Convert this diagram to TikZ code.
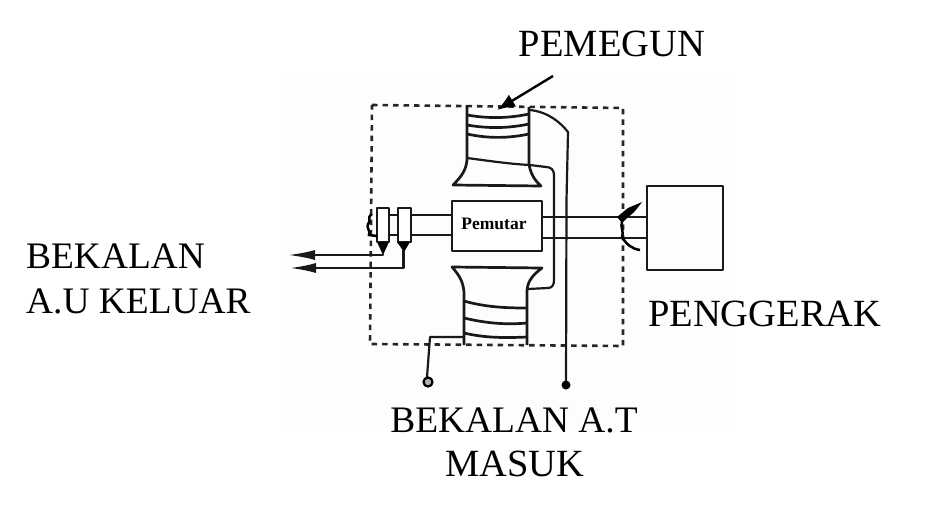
\documentclass[tikz,border=0pt]{standalone}
\usepackage{fontspec}
\setmainfont{Liberation Serif}
\usetikzlibrary{arrows.meta}
\tikzset{
 ln/.style={line width=2.2pt,black!90,line join=round},
 coil/.style={line width=2.7pt,black!90,line join=round},
 dash box/.style={line width=2.6pt,black!85,dash pattern=on 5.5pt off 5pt},
 lbl/.style={font=\fontsize{38.5}{40}\selectfont,inner sep=0pt,text=black},
 lbls/.style={font=\fontsize{37.4}{40}\selectfont,inner sep=0pt,text=black},
 hd/.style={-{Latex[length=27pt,width=10pt]}},
}
\begin{document}
\begin{tikzpicture}[x=1pt,y=-1pt]
\useasboundingbox (0,0) rectangle (936,506);
\fill[white] (0,0) rectangle (936,506);
\fill[black!0.6] (280,72) rectangle (735,425);
% dashed casing
\draw[dash box] (372,105) -- (623,108) -- (623,346) -- (370,344) -- cycle;
% shaft
\coordinate (slA) at (377,215);\coordinate (slB) at (377,235);
\node[draw,ln,minimum width=90pt,minimum height=50pt,inner sep=0pt,fill=white] (rotor) at (497,226) {};
\node[font=\fontsize{17.5}{18}\selectfont\bfseries,inner sep=0pt] (rotorlabel) at (494,224) {Pemutar};
\node[draw,coil,minimum width=76pt,minimum height=84pt,inner sep=0pt] (drive) at (685,228) {};
\draw[ln] (slA) -- (rotor.west |- slA) (slB) -- (rotor.west |- slB);
\draw[ln] (rotor.east |- 0,217) -- (drive.west |- 0,217);
\draw[ln,line width=2.8pt] (rotor.east |- 0,238) -- (drive.west |- 0,238);
% slip rings
\node[draw,coil,fill=white,minimum width=12pt,minimum height=34pt,inner sep=0pt] (ringA) at (383,225) {};
\node[draw,coil,fill=white,minimum width=13pt,minimum height=34pt,inner sep=0pt] (ringB) at (404.5,225) {};
\draw[line width=2.5pt] (372,214) .. controls (366,218) and (372,221) .. (368,224) .. controls (366,228) and (371,231) .. (369,235) -- (377,236);
\fill (377,242) -- (389,242) -- (383,255) -- cycle;
\fill (397,242) -- (410,242) -- (404,252) -- cycle;
% output leads
\coordinate (outA) at (288,255);\coordinate (outB) at (289,268);
\draw[ln,hd] (383,254) -- (383,255) -- (outA);
\draw[ln,line width=2.6pt,hd] (403.5,250) -- (403.5,268) -- (outB);
% top stator
\draw[coil] (467,105) -- (467,160) .. controls (466,170) and (462,176) .. (453,185) -- (541,186) .. controls (534,180) and (530,172) .. (529,164) -- (529,107);
\draw[coil] (467,115) .. controls (490,119) and (510,118) .. (529,114);
\draw[coil] (467,125) .. controls (490,129) and (510,128) .. (529,124);
\draw[coil] (467,134) .. controls (490,139) and (510,138) .. (529,134);
\draw[ln] (467,158) .. controls (490,161) and (510,164) .. (530,165) -- (546,167) .. controls (551,167) and (554,170) .. (554,175) -- (554,280) .. controls (554,285) and (552,288) .. (548,288) -- (528,289);
\coordinate (termB) at (566,385);
\draw[ln] (530,110) .. controls (548,112) and (560,122) .. (568,132) -- (566.5,200) -- (termB);
\fill (termB) circle (4.5pt);
% bottom stator
\draw[coil] (464,345) -- (464,292) .. controls (463,282) and (460,276) .. (452,267) -- (542,268) .. controls (534,274) and (528,280) .. (527,290) -- (527,345);
\draw[coil] (464,301) .. controls (485,307) and (505,308) .. (527,308);
\draw[coil] (464,318) .. controls (485,323) and (505,325) .. (527,323);
\draw[coil] (464,333) .. controls (485,338) and (505,338) .. (527,337);
\coordinate (termA) at (428,382);
\draw[ln] (464,337) -- (430,337) -- (427,377);
\draw[line width=2.2pt,fill=black!30] (termA) circle (4.5pt);
% brush on drive side
\fill (617,217) -- (628,208) -- (642,202) .. controls (637,209) and (632,215) .. (628,217) -- (622,223) -- cycle;
\draw[line width=2.5pt] (622,222) .. controls (620,227) and (624,230) .. (622,237) .. controls (626,244) and (632,249) .. (640,250);
% pointer
\coordinate (ptrs) at (553,76);\coordinate (ptrt) at (497,110);
\draw[line width=2.4pt,-{Latex[length=18pt,width=14pt]}] (ptrs) -- (ptrt);
% labels
\node[lbl,anchor=base] (pemegun) at (612,56) {PEMEGUN};
\node[lbls,anchor=base west] (bek1) at (26,268) {BEKALAN};
\node[lbls,anchor=base west] (auk) at (26,313) {A.U KELUAR};
\node[lbl,anchor=base west] (peng) at (648,326) {PENGGERAK};
\node[lbls,anchor=base] (bek2) at (514,432) {BEKALAN A.T};
\node[lbl,anchor=base] (masuk) at (515,476) {MASUK};
\end{tikzpicture}
\end{document}
